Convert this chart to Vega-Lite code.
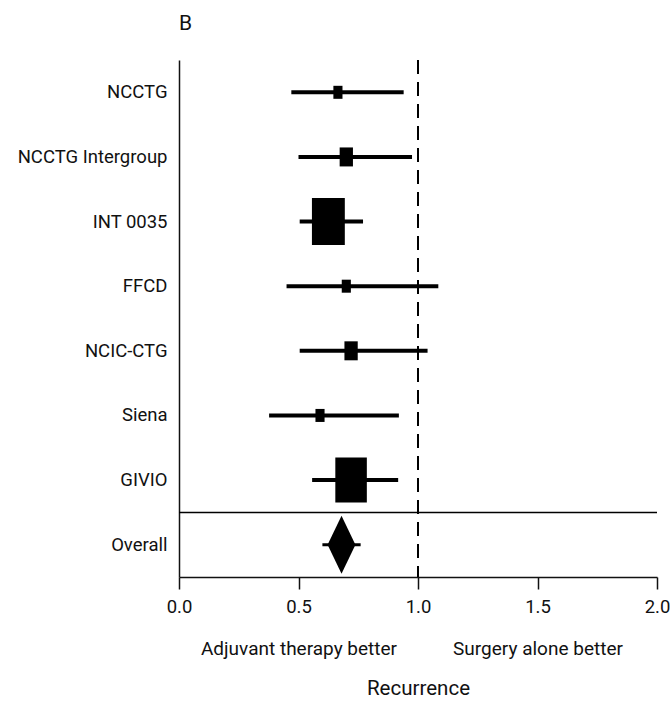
{
  "$schema": "https://vega.github.io/schema/vega-lite/v6.json",
  "width": 478,
  "height": 517,
  "autosize": "none",
  "padding": {"left": 179, "top": 60, "right": 14, "bottom": 127},
  "background": "white",
  "title": {"text": "B", "anchor": "start", "frame": "group", "fontSize": 21, "font": "Roboto", "fontWeight": "normal", "offset": 25, "color": "#111"},
  "data": {"values": [
    {"study": "NCCTG", "est": 0.665, "lo": 0.47, "hi": 0.94, "weight": 3.1},
    {"study": "NCCTG Intergroup", "est": 0.70, "lo": 0.50, "hi": 0.975, "weight": 6.6},
    {"study": "INT 0035", "est": 0.625, "lo": 0.505, "hi": 0.77, "weight": 40.4},
    {"study": "FFCD", "est": 0.70, "lo": 0.45, "hi": 1.085, "weight": 3.1},
    {"study": "NCIC-CTG", "est": 0.72, "lo": 0.505, "hi": 1.04, "weight": 6.6},
    {"study": "Siena", "est": 0.59, "lo": 0.377, "hi": 0.92, "weight": 3.1},
    {"study": "GIVIO", "est": 0.72, "lo": 0.557, "hi": 0.917, "weight": 37.1},
    {"study": "Overall", "est": 0.68, "lo": 0.60, "hi": 0.76, "weight": 100}
  ]},
  "config": {
    "view": {"stroke": null},
    "font": "Roboto",
    "axis": {"grid": false, "labelColor": "#111", "domainColor": "#111", "tickColor": "#111", "titleColor": "#111", "labelFont": "Roboto", "titleFont": "Roboto", "titleFontWeight": "normal"}
  },
  "resolve": {"axis": {"x": "independent"}},
  "layer": [
    {
      "transform": [{"filter": "datum.study != 'Overall'"}],
      "mark": {"type": "rule", "strokeWidth": 4, "color": "black"},
      "encoding": {
        "x": {"field": "lo", "type": "quantitative", "scale": {"domain": [0, 2], "nice": false, "zero": false},
              "axis": {"orient": "bottom", "values": [0, 0.5, 1, 1.5, 2], "format": ".1f", "tickSize": 12, "tickWidth": 1.5, "domainWidth": 1.5, "labelFontSize": 18.5, "labelPadding": 8, "title": null, "labelFlush": false}},
        "x2": {"field": "hi"},
        "y": {"field": "study", "type": "nominal", "title": null,
              "scale": {"type": "band", "domain": ["NCCTG", "NCCTG Intergroup", "INT 0035", "FFCD", "NCIC-CTG", "Siena", "GIVIO", "Overall"], "paddingInner": 0, "paddingOuter": 0},
              "axis": {"title": null, "ticks": false, "domainWidth": 1.5, "labelFontSize": 18.5, "labelPadding": 12, "labelLimit": 0}}
      }
    },
    {
      "transform": [{"filter": "datum.study != 'Overall'"}],
      "mark": {"type": "point", "filled": true, "opacity": 1, "shape": "M-0.7,-1L0.7,-1L0.7,1L-0.7,1Z", "color": "black", "strokeWidth": 0},
      "encoding": {
        "x": {"field": "est", "type": "quantitative", "axis": null},
        "y": {"field": "study", "type": "nominal", "title": null},
        "size": {"field": "weight", "type": "quantitative", "scale": {"domain": [0, 100], "range": [0, 5463]}, "legend": null}
      }
    },
    {
      "transform": [{"filter": "datum.study == 'Overall'"}],
      "mark": {"type": "rule", "strokeWidth": 3, "color": "black"},
      "encoding": {
        "x": {"field": "lo", "type": "quantitative", "axis": null},
        "x2": {"field": "hi"},
        "y": {"field": "study", "type": "nominal", "title": null}
      }
    },
    {
      "transform": [{"filter": "datum.study == 'Overall'"}],
      "mark": {"type": "point", "filled": true, "opacity": 1, "shape": "M0,-1L0.48,0L0,1L-0.48,0Z", "size": 3364, "color": "black", "strokeWidth": 0},
      "encoding": {
        "x": {"field": "est", "type": "quantitative", "axis": null},
        "y": {"field": "study", "type": "nominal", "title": null}
      }
    },
    {
      "transform": [{"filter": "datum.study == 'Overall'"}],
      "mark": {"type": "rule", "strokeWidth": 1.5, "color": "black"},
      "encoding": {
        "x": {"datum": 0, "type": "quantitative", "axis": null},
        "x2": {"datum": 2},
        "y": {"field": "study", "type": "nominal", "bandPosition": 0, "title": null}
      }
    },
    {
      "transform": [{"filter": "datum.study == 'Overall'"}],
      "mark": {"type": "rule", "strokeDash": [14, 8], "strokeWidth": 2, "color": "black"},
      "encoding": {
        "x": {"datum": 1, "type": "quantitative",
              "axis": {"orient": "bottom", "values": [0.5, 1.5], "labelExpr": "datum.value < 1 ? 'Adjuvant therapy better' : 'Surgery alone better'", "ticks": false, "tickSize": 0, "domain": false, "labelFontSize": 19, "labelPadding": 0, "labelLimit": 0, "offset": 62, "title": "Recurrence", "titleFontSize": 20.5, "titlePadding": 20, "labelFlush": false, "labelOverlap": false}}
      }
    }
  ]
}
